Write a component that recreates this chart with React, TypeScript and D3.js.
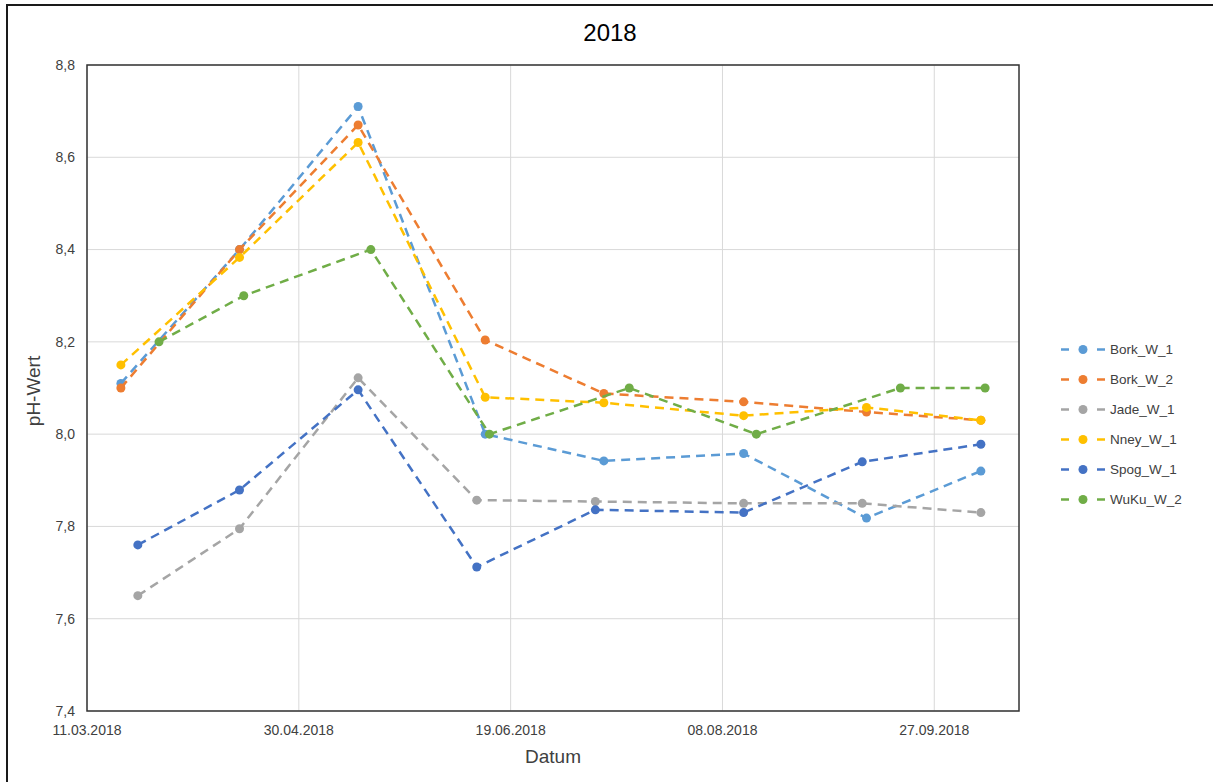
import React from "react";
import * as d3 from "d3";

const title = "2018";
const xTitle = "Datum";
const yTitle = "pH-Wert";

const seriesNames = ["Bork_W_1", "Bork_W_2", "Jade_W_1", "Nney_W_1", "Spog_W_1", "WuKu_W_2"];
const seriesColors = ["#5B9BD5", "#ED7D31", "#A5A5A5", "#FFC000", "#4472C4", "#70AD47"];

const datesA = ["2018-03-19", "2018-04-16", "2018-05-14", "2018-06-13", "2018-07-11", "2018-08-13", "2018-09-11", "2018-10-08"];
const datesB = ["2018-03-23", "2018-04-16", "2018-05-14", "2018-06-11", "2018-07-09", "2018-08-13", "2018-09-10", "2018-10-08"];
const datesC = ["2018-03-28", "2018-04-17", "2018-05-17", "2018-06-14", "2018-07-17", "2018-08-16", "2018-09-19", "2018-10-09"];

const borkW1 = [8.11, 8.40, 8.71, 8.00, 7.942, 7.958, 7.818, 7.92];
const borkW2 = [8.10, 8.40, 8.67, 8.204, 8.088, 8.07, 8.048, 8.03];
const jadeW1 = [7.65, 7.795, 8.122, 7.857, 7.854, 7.85, 7.85, 7.83];
const nneyW1 = [8.15, 8.383, 8.632, 8.08, 8.068, 8.04, 8.058, 8.03];
const spogW1 = [7.76, 7.879, 8.096, 7.712, 7.836, 7.83, 7.94, 7.978];
const wukuW2 = [8.20, 8.30, 8.40, 8.00, 8.10, 8.00, 8.10, 8.10];

const seriesDates = [datesA, datesA, datesB, datesA, datesB, datesC];
const seriesValues = [borkW1, borkW2, jadeW1, nneyW1, spogW1, wukuW2];

const xDomain = ["2018-03-11", "2018-10-17"];
const xTickDates = ["2018-03-11", "2018-04-30", "2018-06-19", "2018-08-08", "2018-09-27"];
const yTicks = [7.4, 7.6, 7.8, 8.0, 8.2, 8.4, 8.6, 8.8];

const W = 1213;
const H = 782;
const plot = { left: 87, right: 1019, top: 65, bottom: 711 };
const font = "'Liberation Sans', Arial, sans-serif";
const textColor = "#404040";

export default function App() {
  const parse = d3.utcParse("%Y-%m-%d");
  const x = d3
    .scaleUtc()
    .domain(xDomain.map((d) => parse(d) as Date))
    .range([plot.left, plot.right]);
  const y = d3.scaleLinear().domain([7.4, 8.8]).range([plot.bottom, plot.top]);
  const fmtDate = d3.utcFormat("%d.%m.%Y");
  const fmtY = (v: number) => d3.format(".1f")(v).replace(".", ",");

  const line = d3
    .line<[Date, number]>()
    .x((d) => x(d[0]))
    .y((d) => y(d[1]));

  const data = seriesNames.map((name, i) => ({
    name,
    color: seriesColors[i],
    pts: seriesDates[i].map((d, j) => [parse(d) as Date, seriesValues[i][j]] as [Date, number]),
  }));

  return (
    <svg
      width={W}
      height={H}
      style={{ position: "absolute", left: 0, top: 0, display: "block", background: "#fff" }}
      fontFamily={font}
    >
      <rect x={0} y={0} width={W} height={H} fill="#fff" />
      <path d={`M7,${H} V5 H${W}`} fill="none" stroke="#1a1a1a" strokeWidth={2} />

      {/* gridlines */}
      {yTicks.map((t) => (
        <line key={"gy" + t} x1={plot.left} x2={plot.right} y1={y(t)} y2={y(t)} stroke="#D9D9D9" strokeWidth={1} />
      ))}
      {xTickDates.map((t) => {
        const xx = x(parse(t) as Date);
        return <line key={"gx" + t} x1={xx} x2={xx} y1={plot.top} y2={plot.bottom} stroke="#D9D9D9" strokeWidth={1} />;
      })}

      <rect
        x={plot.left}
        y={plot.top}
        width={plot.right - plot.left}
        height={plot.bottom - plot.top}
        fill="none"
        stroke="#333"
        strokeWidth={1.5}
      />

      {/* tick labels */}
      {yTicks.map((t) => (
        <text key={"ty" + t} x={75} y={y(t)} dy="0.35em" textAnchor="end" fontSize={14} fill={textColor}>
          {fmtY(t)}
        </text>
      ))}
      {xTickDates.map((t) => {
        const dt = parse(t) as Date;
        return (
          <text key={"tx" + t} x={x(dt)} y={735} textAnchor="middle" fontSize={14} fill={textColor}>
            {fmtDate(dt)}
          </text>
        );
      })}

      {/* series */}
      {data.map((s) => (
        <g key={s.name}>
          <path d={line(s.pts) || ""} fill="none" stroke={s.color} strokeWidth={2.5} strokeDasharray="9,6" />
          {s.pts.map((p, j) => (
            <circle key={j} cx={x(p[0])} cy={y(p[1])} r={4.5} fill={s.color} />
          ))}
        </g>
      ))}

      {/* titles */}
      <text x={610} y={41} textAnchor="middle" fontSize={24} fill="#000">
        {title}
      </text>
      <text x={553} y={763} textAnchor="middle" fontSize={19} fill={textColor}>
        {xTitle}
      </text>
      <text transform="translate(40,391) rotate(-90)" textAnchor="middle" fontSize={19} fill={textColor}>
        {yTitle}
      </text>

      {/* legend */}
      {data.map((s, i) => {
        const ly = 349.5 + 30 * i;
        return (
          <g key={"lg" + s.name}>
            <line x1={1061} x2={1069} y1={ly} y2={ly} stroke={s.color} strokeWidth={2.5} />
            <line x1={1097} x2={1105} y1={ly} y2={ly} stroke={s.color} strokeWidth={2.5} />
            <circle cx={1083} cy={ly} r={4.5} fill={s.color} />
            <text x={1110} y={ly} dy="0.35em" fontSize={13.5} fill={textColor}>
              {s.name}
            </text>
          </g>
        );
      })}
    </svg>
  );
}
